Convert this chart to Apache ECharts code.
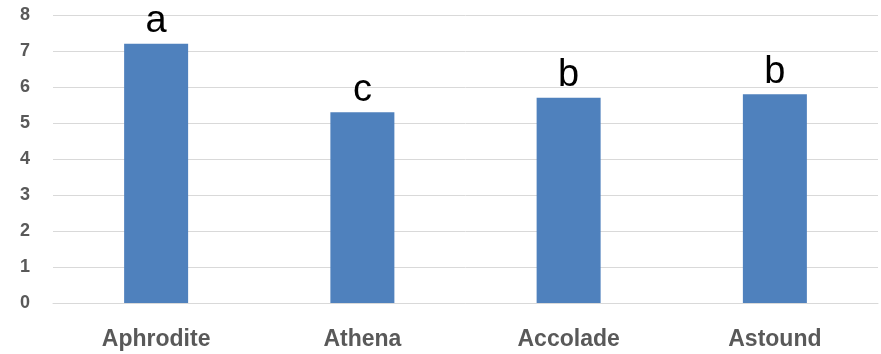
<!DOCTYPE html>
<html><head><meta charset="utf-8">
<script src="https://cdn.jsdelivr.net/npm/echarts@6/dist/echarts.min.js"></script>
<style>html,body{margin:0;padding:0;background:#fff}#c{width:881px;height:354px}</style>
</head><body><div id="c"></div>
<script>
const categories = ['Aphrodite', 'Athena', 'Accolade', 'Astound'];
const values = [7.2, 5.3, 5.7, 5.8];
const letters = ['a', 'c', 'b', 'b'];
const yTicks = [0, 1, 2, 3, 4, 5, 6, 7, 8];

const chart = echarts.init(document.getElementById('c'), null, {renderer: 'canvas'});
chart.setOption({
  animation: false,
  grid: {left: 53, right: 3, top: 15, bottom: 51},
  xAxis: {
    type: 'category', data: categories,
    axisLine: {show: true, lineStyle: {color: '#d9d9d9', width: 1}},
    axisTick: {show: false},
    axisLabel: {color: '#595959', fontWeight: 'bold', fontSize: 23, fontFamily: 'Liberation Sans', margin: 25}
  },
  yAxis: {
    type: 'value', min: yTicks[0], max: yTicks[yTicks.length - 1], interval: 1,
    axisLine: {show: false}, axisTick: {show: false},
    splitLine: {lineStyle: {color: '#d9d9d9', width: 1}},
    axisLabel: {color: '#595959', fontWeight: 'bold', fontSize: 18, fontFamily: 'Liberation Sans', margin: 23}
  },
  series: [{
    type: 'bar', data: values, barWidth: 64,
    itemStyle: {color: '#4f81bd'},
    label: {
      show: true, position: 'top', distance: 3,
      formatter: p => letters[p.dataIndex],
      color: '#000', fontSize: 38, fontFamily: 'Liberation Sans'
    }
  }]
});
</script></body></html>
